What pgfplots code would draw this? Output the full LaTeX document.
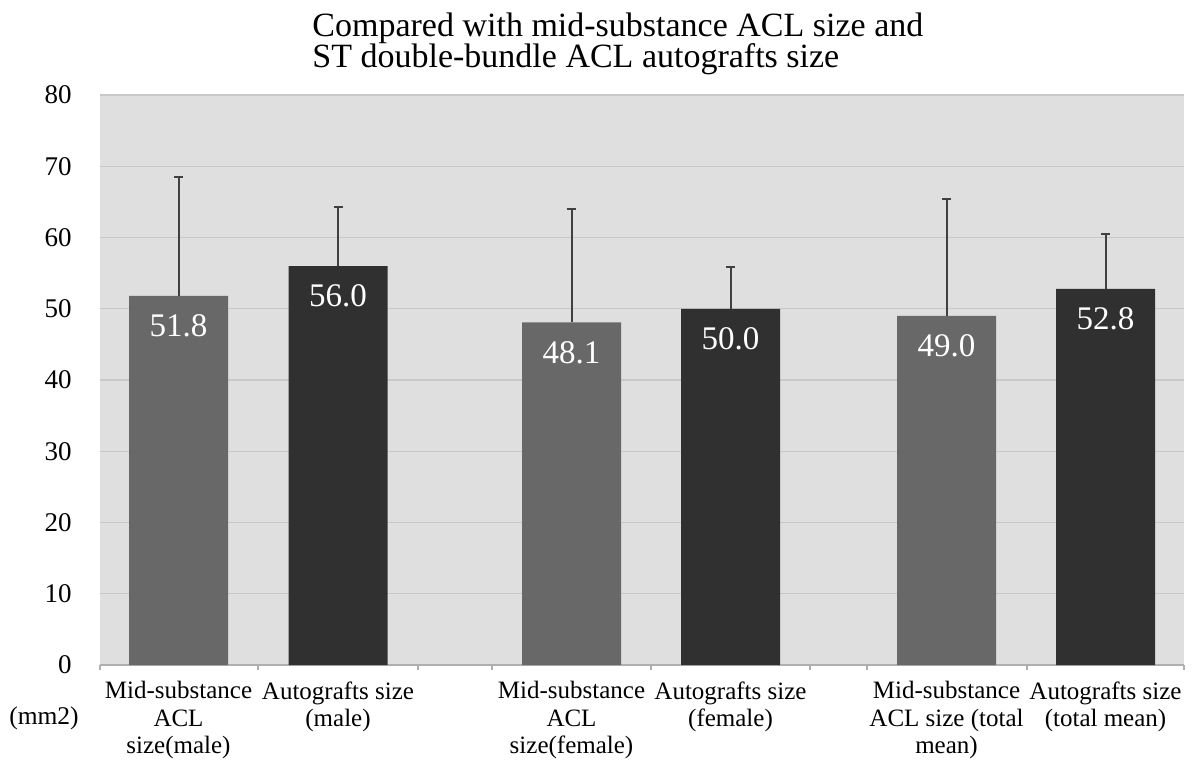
\documentclass[border=0pt]{standalone}
\usepackage{fontspec}
\setmainfont{Liberation Serif}
\usepackage{pgfplots}
\pgfplotsset{compat=1.18}
\definecolor{bggray}{RGB}{223,223,223}
\definecolor{gridgray}{RGB}{200,200,200}
\definecolor{midgray}{RGB}{104,104,104}
\definecolor{darkbar}{RGB}{48,48,48}
\definecolor{errgray}{RGB}{64,64,64}
\definecolor{axisgray}{RGB}{175,175,175}

\begin{document}
\begin{tikzpicture}
\begin{axis}[
    scale only axis,
    width=542pt, height=285pt,
    xmin=100, xmax=1184,
    ymin=0, ymax=80,
    ytick={0,10,...,80},
    xtick={178.5,338,571.5,730.5,946.5,1105.5},
    xticklabels={{Mid-substance\\ACL\\size(male)},
                 {Autografts size\\(male)},
                 {Mid-substance\\ACL\\size(female)},
                 {Autografts size\\(female)},
                 {Mid-substance\\ACL size (total\\mean)},
                 {Autografts size\\(total mean)}},
    minor xtick={100,258,418,492,651,810,867,1027,1184},
    major tick length=0pt,
    minor tick length=2.5pt,
    tick align=outside,
    minor tick style={axisgray, line width=0.6pt},
    axis x line*=bottom,
    axis y line*=left,
    y axis line style={draw=none},
    x axis line style={axisgray, line width=0.6pt},
    ymajorgrids,
    grid style={gridgray, line width=0.6pt},
    axis background/.style={fill=bggray},
    /pgf/number format/assume math mode=true,
    yticklabel style={font=\fontsize{13.5}{14}\selectfont, inner sep=0pt, xshift=-14pt},
    xticklabel style={font=\fontsize{12.5}{13.75}\selectfont, align=center, inner sep=0pt, yshift=-8pt},
    ybar, bar width=99, bar shift=0pt,
    nodes near coords={\pgfmathprintnumber[fixed,fixed zerofill,precision=1]{\pgfplotspointmeta}},
    every node near coord/.append style={font=\fontsize{16.5}{16.5}\selectfont, text=white, anchor=center, yshift=-15pt},
]
% mid-substance ACL size
\addplot[fill=midgray, draw=none,
    error bars/.cd, y dir=plus, y explicit, error mark=|,
    error bar style={errgray, line width=1pt},
    error mark options={errgray, line width=1pt, mark size=2.25pt}]
    coordinates {
    (178.5,51.8) +- (0,16.7)
    (571.5,48.1) +- (0,15.9)
    (946.5,49.0) +- (0,16.4)
    };
% autografts size
\addplot[fill=darkbar, draw=none,
    error bars/.cd, y dir=plus, y explicit, error mark=|,
    error bar style={errgray, line width=1pt},
    error mark options={errgray, line width=1pt, mark size=2.25pt}]
    coordinates {
    (338,56.0) +- (0,8.3)
    (730.5,50.0) +- (0,5.9)
    (1105.5,52.8) +- (0,7.7)
    };
\end{axis}
\node[anchor=base west, inner sep=0pt, font=\fontsize{17}{15}\selectfont] at (106pt,314.5pt) {Compared with mid-substance ACL size and};
\node[anchor=base west, inner sep=0pt, font=\fontsize{17}{15}\selectfont] at (106pt,299pt) {ST double-bundle ACL autografts size};
\node[anchor=base, inner sep=0pt, font=\fontsize{12.75}{13.5}\selectfont] at (-28pt,-29.5pt) {(mm2)};
\pgfresetboundingbox
\path (-50pt,-51.5pt) rectangle (546pt,332.5pt);
\end{tikzpicture}
\end{document}
